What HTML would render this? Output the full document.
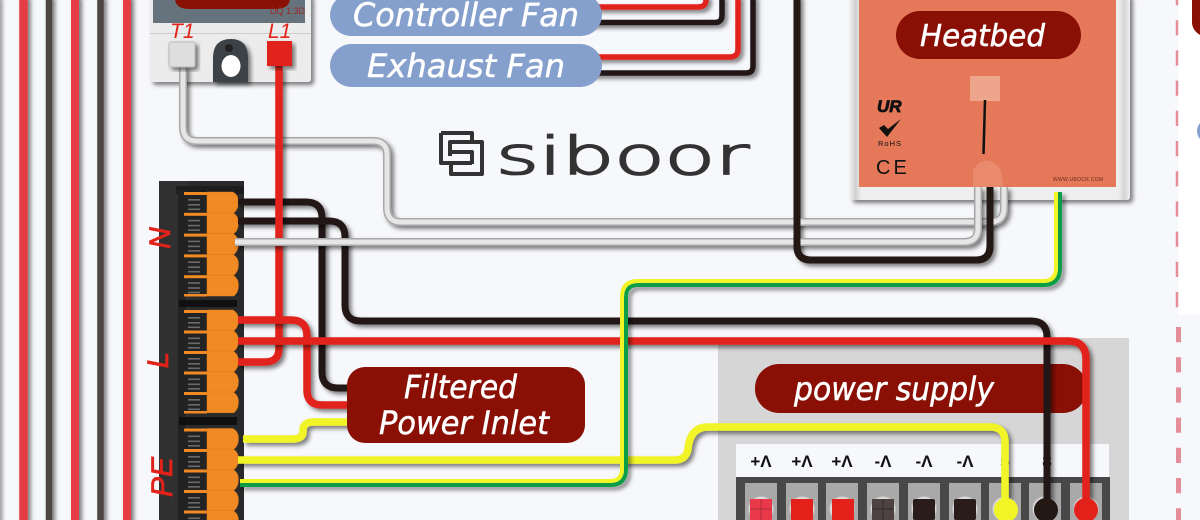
<!DOCTYPE html>
<html><head><meta charset="utf-8"><title>Wiring diagram</title>
<style>
html,body{margin:0;padding:0;background:#f7f8fb;width:1200px;height:520px;overflow:hidden}
svg{display:block}
text{font-family:"Liberation Sans",sans-serif}
.lab{fill:#fff;stroke:#fff;stroke-width:.5;font-family:"DejaVu Sans","Liberation Sans",sans-serif;font-style:italic;font-size:32px}
.red{fill:#e2231a;font-style:italic;stroke:#e2231a;stroke-width:.7}
.red2{fill:#e2231a;font-style:italic}
.w{fill:none;stroke-linejoin:round}
.k{stroke:#241815;stroke-width:7}
.r{stroke:#e2211b;stroke-width:7.500}
.y{stroke:#f1f425;stroke-width:7.500}
.t{font-weight:bold;font-size:17px;fill:#111;text-anchor:middle}
</style></head><body>
<svg width="1200" height="520" viewBox="0 0 1200 520" xmlns="http://www.w3.org/2000/svg">
<defs>
<filter id="s" x="-20%" y="-20%" width="140%" height="140%" filterUnits="objectBoundingBox"><feDropShadow dx="3" dy="3" stdDeviation="2" flood-color="#000" flood-opacity=".5"/></filter>
<filter id="ss" x="-5" y="-5" width="1210" height="530" filterUnits="userSpaceOnUse"><feDropShadow dx="3" dy="3" stdDeviation="2" flood-color="#000" flood-opacity=".5"/></filter>
<linearGradient id="hb" x1="0" x2="1" y1="0" y2="0"><stop offset="0" stop-color="#f0f0f0"/><stop offset=".02" stop-color="#cfcfcf"/><stop offset=".04" stop-color="#eee"/><stop offset=".96" stop-color="#eee"/><stop offset=".98" stop-color="#d4d4d4"/><stop offset="1" stop-color="#efefef"/></linearGradient>
<pattern id="tex" width="4" height="4" patternUnits="userSpaceOnUse"><path d="M0 0H4M0 0V4" stroke="#c9583c" stroke-width=".4" opacity=".25"/></pattern>
<g id="cell">
<rect x="186" y="3" width="21" height="18" fill="#232323"/>
<rect x="188" y="7" width="12" height="1.6" fill="#6a6a6a"/><rect x="188" y="12" width="12" height="1.6" fill="#6a6a6a"/><rect x="188" y="16.500" width="12" height="1.6" fill="#6a6a6a"/>
<rect x="184" y="0" width="23" height="3" fill="#f28a23"/>
<path d="M207,0H233Q238.500,3 238.500,10Q238.500,17 234,20.800H207Z" fill="#f28a23" stroke="#d97a1d" stroke-width=".5"/>
</g>
<g id="col"><rect x="0" y="0" width="32" height="40" fill="#a9a9a9"/><circle cx="16" cy="26" r="12.500" fill="#ddd" stroke="#bbb"/></g>
</defs>

<rect width="1200" height="520" fill="#f7f8fb"/>
<rect x="1178" y="0" width="22" height="315" fill="#fff"/>

<!-- left bus wires -->
<g filter="url(#ss)" fill="none">
<path d="M-3,-5V525" stroke="#4f4442" stroke-width="4"/>
<path d="M23.500,-5V525" stroke="#e63c44" stroke-width="8.500"/>
<path d="M49,-5V525" stroke="#4f4442" stroke-width="6.500"/>
<path d="M75,-5V525" stroke="#e63c44" stroke-width="8"/>
<path d="M100.500,-5V525" stroke="#4f4442" stroke-width="6.500"/>
<path d="M127,-5V525" stroke="#e63c44" stroke-width="8"/>
</g>

<!-- logo -->
<g fill="none" stroke="#333" stroke-width="4" stroke-linejoin="round">
<path d="M441,133H472V142M464,142H450V156M441,133V163H472"/>
<path d="M451,142H482V174H451V164M451,152H472V164"/>
</g>
<text x="496" y="174" style="font-family:'DejaVu Sans ExtraLight','DejaVu Sans',sans-serif;font-weight:200" font-size="52" fill="#333" stroke="#333" stroke-width="1.800" textLength="253" lengthAdjust="spacingAndGlyphs">siboor</text>

<!-- meter -->
<g filter="url(#ss)"><rect x="150" y="-6" width="161" height="88" rx="3" fill="#ececec"/></g>
<rect x="150" y="33" width="161" height="1" fill="#ccc"/>
<rect x="153" y="-4" width="152" height="27" fill="#66737c"/>
<path d="M175,-2H290Q290,9 275,9H190Q175,9 175,-2Z" fill="#8a1005"/>
<text x="270" y="14" font-size="9" fill="#9a2a2a">DQ 1.3D</text>
<text x="170" y="38" font-size="21" class="red2">T1</text>
<text x="268" y="38" font-size="21" class="red2">L1</text>
<path d="M213,82V58Q213,39 231,39Q248,39 248,58V82Z" fill="#3d4246" filter="url(#s)"/>
<circle cx="229" cy="48" r="4" fill="#222"/>
<ellipse cx="231" cy="66" rx="9.500" ry="11" fill="#fff"/>

<!-- power supply panel -->
<rect x="718" y="338" width="411" height="182" fill="#d6d6d6"/>
<rect x="755" y="364" width="332" height="49" rx="24" fill="#8a1005"/>
<text x="794" y="400" class="lab" textLength="200" lengthAdjust="spacingAndGlyphs">power supply</text>
<rect x="736" y="444" width="373" height="33" fill="#f7f8fb"/>
<rect x="736" y="477" width="374" height="43" fill="#484848"/>
<use href="#col" x="745" y="483"/><use href="#col" x="786" y="483"/><use href="#col" x="826" y="483"/><use href="#col" x="867" y="483"/><use href="#col" x="908" y="483"/><use href="#col" x="949" y="483"/><use href="#col" x="989" y="483"/><use href="#col" x="1029" y="483"/><use href="#col" x="1070" y="483"/>
<rect x="750" y="499" width="22" height="21" fill="#e8384a"/><path d="M761,499V520M750,509H772" stroke="#c23040" stroke-width="1.500"/>
<rect x="791" y="499" width="22" height="21" fill="#e2211b"/>
<rect x="832" y="499" width="22" height="21" fill="#e2211b"/>
<rect x="872" y="499" width="22" height="21" fill="#4f4242"/><path d="M883,499V520M872,509H894" stroke="#3c3232" stroke-width="1.500"/>
<rect x="913" y="499" width="22" height="21" rx="2" fill="#2a1c1a"/>
<rect x="954" y="499" width="22" height="21" rx="2" fill="#2a1c1a"/>
<text class="t" x="761" y="467">+Λ</text><text class="t" x="802" y="467">+Λ</text><text class="t" x="842" y="467">+Λ</text>
<text class="t" x="883" y="467">-Λ</text><text class="t" x="924" y="467">-Λ</text><text class="t" x="965" y="467">-Λ</text>
<text class="t" x="1005" y="467">5</text><text class="t" x="1047" y="467">8</text>

<!-- heatbed -->
<g filter="url(#ss)"><rect x="850" y="-6" width="280" height="206" rx="3" fill="url(#hb)"/></g>
<rect x="859" y="-6" width="257" height="193" fill="#e5795a"/>
<rect x="859" y="-6" width="257" height="193" fill="url(#tex)"/>
<rect x="896" y="11" width="185" height="48" rx="24" fill="#8a1005"/>
<text x="920" y="46" class="lab" style="font-size:30px" textLength="125" lengthAdjust="spacingAndGlyphs">Heatbed</text>
<rect x="970" y="76" width="30" height="25" fill="#eda58b"/>
<path d="M985,100L983.500,154" stroke="#111" stroke-width="2.500"/>
<path d="M973,187V170Q985,152 1000,168L1004,187Z" fill="#e98a6c"/>
<text x="877" y="112" font-size="17" font-weight="bold" font-style="italic" fill="#111" stroke="#111" stroke-width=".8">UR</text>
<path d="M879,128L887,137L901,119L888,129L884,125Z" fill="#111"/>
<text x="878" y="146" font-size="7.500" fill="#111" textLength="23">RoHS</text>
<text x="876" y="174" font-size="20" fill="#111" letter-spacing="3">CE</text>
<text x="1053" y="181" font-size="5" fill="#6b2a1a" textLength="50">WWW.UBOCR.COM</text>

<!-- top fan wires -->
<g filter="url(#ss)" class="w" fill="none">
<path class="k" d="M590,73H746Q753,73 753,66V-5" style="stroke-width:5.500"/>
<path class="r" d="M590,57H730Q738,57 738,49V-5" style="stroke-width:5.500"/>
<path class="k" d="M590,22.500H715Q722,22.500 722,15V-5" style="stroke-width:5.500"/>
<path class="r" d="M590,7H698Q706,7 706,0V-5" style="stroke-width:5.500"/>
</g>

<!-- terminal block -->
<rect x="159" y="181" width="85" height="345" fill="#2a2a2a"/>
<rect x="159" y="181" width="30" height="345" fill="#303030"/>
<rect x="176" y="186" width="68" height="8" fill="#1d1d1d"/>
<rect x="178" y="190" width="8" height="330" fill="#222"/>
<rect x="179" y="300" width="58" height="7" fill="#101010"/>
<rect x="179" y="417" width="58" height="8" fill="#101010"/>
<use href="#cell" y="192"/><use href="#cell" y="212.800"/><use href="#cell" y="233.600"/><use href="#cell" y="254.400"/><use href="#cell" y="275.200"/>
<rect x="184" y="294" width="23" height="2.500" fill="#f28a23"/>
<use href="#cell" y="310"/><use href="#cell" y="330.500"/><use href="#cell" y="351"/><use href="#cell" y="371.500"/><use href="#cell" y="392"/>
<rect x="184" y="411" width="23" height="2.500" fill="#f28a23"/>
<use href="#cell" y="428.500"/><use href="#cell" y="449"/><use href="#cell" y="469.500"/><use href="#cell" y="490"/><use href="#cell" y="510.500"/>
<text transform="translate(170,238) rotate(-90)" text-anchor="middle" font-size="30" class="red">N</text>
<text transform="translate(168,360) rotate(-90)" text-anchor="middle" font-size="30" class="red">L</text>
<text transform="translate(172,477) rotate(-90)" text-anchor="middle" font-size="30" class="red">PE</text>

<!-- main wires -->
<g filter="url(#ss)"><path class="w k" d="M238,202H306Q322,202 322,218V372Q322,388 338,388H350"/></g>
<g filter="url(#ss)"><path class="w k" d="M238,221H329Q345,221 345,237V305Q345,321 361,321H1031Q1047,321 1047,337V510"/></g>
<g filter="url(#ss)"><path class="w k" d="M990,187V246Q990,260 976,260H811Q797,260 797,246V-5"/></g>
<circle cx="1046" cy="510" r="12" fill="#241815"/>

<!-- gray heatbed wires -->
<g filter="url(#ss)" class="w">
<path d="M1004,187V208Q1004,222 990,222H401Q387,222 387,208V155Q387,141 373,141H197Q183,141 183,127V66" stroke="#a8a8a8" stroke-width="8" fill="none"/>
</g>
<path class="w" d="M1004,187V208Q1004,222 990,222H401Q387,222 387,208V155Q387,141 373,141H197Q183,141 183,127V66" stroke="#e6e6e6" stroke-width="5" fill="none"/>

<g filter="url(#ss)"><path class="w r" d="M279,66V348Q279,362 265,362H238"/></g>
<rect x="267" y="41" width="25" height="25" fill="#e2211b" filter="url(#s)"/>
<rect x="169" y="42" width="26" height="25" rx="2" fill="#dedede" stroke="#bbb" filter="url(#s)"/>

<g filter="url(#ss)"><path class="w r" d="M238,320H291Q307,320 307,336V390Q307,405 322,405H350"/></g>
<g filter="url(#ss)"><path class="w r" d="M238,341H1068Q1086,341 1086,359V510"/></g>
<circle cx="1086" cy="510" r="12" fill="#e2211b"/>

<!-- gray N wire -->
<g filter="url(#ss)"><path class="w" d="M235,242H964Q978,242 978,228V187" stroke="#a8a8a8" stroke-width="8" fill="none"/></g>
<path class="w" d="M235,242H964Q978,242 978,228V187" stroke="#e6e6e6" stroke-width="5" fill="none"/>
<!-- black heatbed wire over gray -->
<path class="w k" d="M990,187V246Q990,260 976,260H811Q797,260 797,246V-5"/>

<!-- yellow wires -->
<g filter="url(#ss)"><path class="w y" d="M243,439H292Q303,439 303,432V430Q303,422 314,422H350"/></g>
<g filter="url(#ss)"><path class="w y" d="M238,460H675Q686,460 688,449Q690,427 708,427H990Q1005,427 1005,442V510"/></g>
<circle cx="1006" cy="510" r="12" fill="#f1f425"/>

<!-- yellow/green -->
<g filter="url(#ss)" fill="none">
<path d="M1060,192V268Q1060,285 1043,285H638Q626,285 626,297V469Q626,485 610,485H240" stroke="#0f9d46" stroke-width="4"/>
</g>
<path d="M1056,192V268Q1056,281 1043,281H638Q622,281 622,297V469Q622,481 610,481H240" fill="none" stroke="#f1f425" stroke-width="4"/>

<!-- labels on top -->
<rect x="330" y="-6" width="272" height="42" rx="21" fill="#85a0cc"/>
<rect x="330" y="44" width="272" height="43" rx="21.500" fill="#85a0cc"/>
<text x="353" y="26" class="lab" textLength="226" lengthAdjust="spacingAndGlyphs">Controller Fan</text>
<text x="367" y="77" class="lab" textLength="198" lengthAdjust="spacingAndGlyphs">Exhaust Fan</text>
<rect x="347" y="367" width="238" height="76" rx="18" fill="#8a1005"/>
<text x="404" y="398" class="lab" textLength="113" lengthAdjust="spacingAndGlyphs">Filtered</text>
<text x="379" y="434" class="lab" textLength="170" lengthAdjust="spacingAndGlyphs">Power Inlet</text>

<!-- right edge -->
<path d="M1192,-2V22Q1192,30 1200,35V-2Z" fill="#8a1005"/>
<circle cx="1209" cy="131" r="12" fill="#85a0cc"/>
<path d="M1177,-5V315" stroke="#e38e98" stroke-width="2.500" stroke-dasharray="15.200 15" stroke-dashoffset="5" fill="none"/>
<path d="M1178.500,327V522" stroke="#e38e98" stroke-width="5" stroke-dasharray="15.200 15" fill="none"/>
</svg>
</body></html>
